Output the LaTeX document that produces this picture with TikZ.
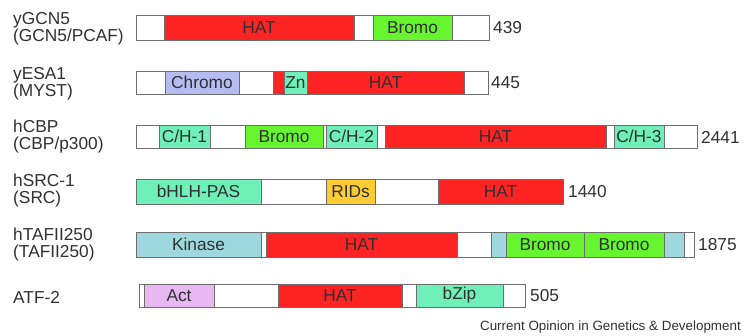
\documentclass[tikz,border=0pt]{standalone}
\usepackage{fontspec}
\setmainfont{Liberation Sans}
\definecolor{hatred}{HTML}{FF2424}
\definecolor{bromog}{HTML}{66F52E}
\definecolor{chromob}{HTML}{B4BCF2}
\definecolor{teal}{HTML}{6EF0B8}
\definecolor{ridy}{HTML}{FFCC33}
\definecolor{kinb}{HTML}{9ED8DE}
\definecolor{actp}{HTML}{E8B8F2}
\definecolor{txt}{HTML}{303030}
\definecolor{edge}{HTML}{6E6E6E}
\newcommand\dom[7]{%
  \draw[segbox,fill=#6] (#2,#4) rectangle (#3,#5) node[midway,domtext] (#1) {#7};}
\begin{document}
\begin{tikzpicture}[x=1pt,y=-1pt,
  segbox/.style={draw=edge,line width=0.8pt},
  domtext/.style={text=txt,font=\fontsize{17.3}{17}\selectfont,inner sep=0pt},
  lbl/.style={text=txt,font=\fontsize{17.3}{17}\selectfont,anchor=west,inner sep=0pt,align=left},
  num/.style={text=txt,font=\fontsize{17.3}{17}\selectfont,anchor=west,inner sep=0pt}]
\useasboundingbox (0,0) rectangle (743,335);
% Row 1 yGCN5
\node[lbl] (l1) at (13,28.5) {yGCN5\\(GCN5/PCAF)};
\dom{a1}{136}{164}{15}{40}{white}{}
\dom{a2}{164}{354}{15}{40}{hatred}{HAT}
\dom{a3}{354}{373}{15}{40}{white}{}
\dom{a4}{373}{452}{15}{40}{bromog}{Bromo}
\dom{a5}{452}{489}{15}{40}{white}{}
\node[num] (n1) at (493,28) {439};
% Row 2 yESA1
\node[lbl] (l2) at (13,83.5) {yESA1\\(MYST)};
\dom{b1}{136}{165}{71}{94}{white}{}
\dom{b2}{165}{239}{71}{94}{chromob}{Chromo}
\dom{b3}{239}{273}{71}{94}{white}{}
\dom{b4}{273}{284}{71}{94}{hatred}{}
\dom{b5}{284}{307}{71}{94}{teal}{Zn}
\dom{b6}{307}{464}{71}{94}{hatred}{HAT}
\dom{b7}{464}{488}{71}{94}{white}{}
\node[num] (n2) at (491,83) {445};
% Row 3 hCBP
\node[lbl] (l3) at (13,136.5) {hCBP\\(CBP/p300)};
\dom{c1}{136}{159}{125}{148}{white}{}
\dom{c2}{159}{210}{125}{148}{teal}{C/H-1}
\dom{c3}{210}{245}{125}{148}{white}{}
\dom{c4}{245}{323}{125}{148}{bromog}{Bromo}
\dom{c5}{323}{326}{125}{148}{white}{}
\dom{c6}{326}{377}{125}{148}{teal}{C/H-2}
\dom{c7}{377}{385}{125}{148}{white}{}
\dom{c8}{385}{606}{125}{148}{hatred}{HAT}
\dom{c9}{606}{614}{125}{148}{white}{}
\dom{c10}{614}{664}{125}{148}{teal}{C/H-3}
\dom{c11}{664}{697}{125}{148}{white}{}
\node[num] (n3) at (701,137) {2441};
% Row 4 hSRC-1
\node[lbl] (l4) at (13,190.5) {hSRC-1\\(SRC)};
\dom{d1}{136}{261}{179}{204}{teal}{bHLH-PAS}
\dom{d2}{261}{326}{179}{204}{white}{}
\dom{d3}{326}{375}{179}{204}{ridy}{RIDs}
\dom{d4}{375}{438}{179}{204}{white}{}
\dom{d5}{438}{563}{179}{204}{hatred}{HAT}
\node[num] (n4) at (568,192) {1440};
% Row 5 hTAFII250
\node[lbl] (l5) at (13,245) {hTAFII250\\(TAFII250)};
\dom{e1}{136}{261}{232}{257}{kinb}{Kinase}
\dom{e2}{261}{266}{232}{257}{white}{}
\dom{e3}{266}{457}{232}{257}{hatred}{HAT}
\dom{e4}{457}{491}{232}{257}{white}{}
\dom{e5}{491}{506}{232}{257}{kinb}{}
\dom{e6}{506}{584}{232}{257}{bromog}{Bromo}
\dom{e7}{584}{664}{232}{257}{bromog}{Bromo}
\dom{e8}{664}{684}{232}{257}{kinb}{}
\dom{e9}{684}{694}{232}{257}{white}{}
\node[num] (n5) at (698,245) {1875};
% Row 6 ATF-2
\node[lbl] (l6) at (13,297) {ATF-2};
\dom{f1}{139}{144}{284}{307}{white}{}
\dom{f2}{144}{214}{284}{307}{actp}{Act}
\dom{f3}{214}{278}{284}{307}{white}{}
\dom{f4}{278}{402}{284}{307}{hatred}{HAT}
\dom{f5}{402}{416}{284}{307}{white}{}
\dom{f6}{416}{503}{284}{307}{teal}{bZip}
\dom{f7}{503}{525}{284}{307}{white}{}
\node[num] (n6) at (530,296) {505};
% caption
\node[text=txt,font=\fontsize{13.4}{13}\selectfont,anchor=east,inner sep=0pt] (cap) at (741,327) {Current Opinion in Genetics \& Development};
\end{tikzpicture}
\end{document}
